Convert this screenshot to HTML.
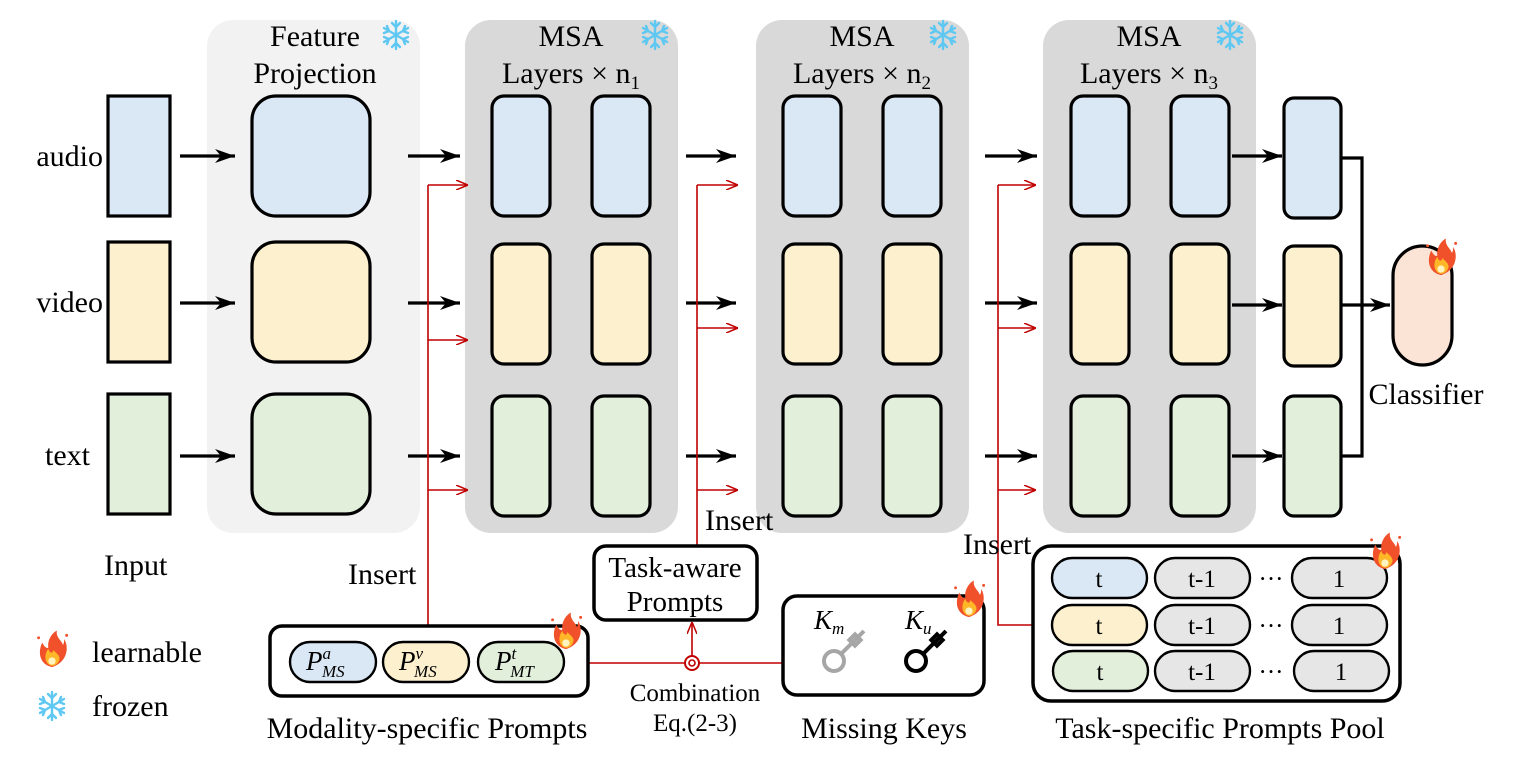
<!DOCTYPE html>
<html><head><meta charset="utf-8"><style>
body{margin:0;background:#fff}
svg{display:block}
text{font-family:"Liberation Serif",serif;fill:#000}
</style></head><body>
<svg width="1515" height="767" viewBox="0 0 1515 767" xmlns="http://www.w3.org/2000/svg">
<defs>
<marker id="abk" viewBox="0 0 20 14" markerWidth="20" markerHeight="14" refX="20" refY="7" orient="auto" markerUnits="userSpaceOnUse"><path d="M0,0 L20,7 L0,14 L6,7 Z" fill="#000"/></marker>
<marker id="ar" viewBox="0 0 12 10" markerWidth="12" markerHeight="10" refX="12" refY="5" orient="auto" markerUnits="userSpaceOnUse"><path d="M0,0 L12,5 L0,10" fill="none" stroke="#c00000" stroke-width="1.5"/></marker>
<g id="fl">
<path d="M0,14 C-10,12 -12,2 -8,-6 C-6,-2 -4,-1 -3,-2 C-4,-8 0,-14 4,-16 C3,-10 8,-8 9,-4 C10,-6 10,-8 10,-9 C14,-3 13,10 0,14 Z" fill="#f0502a"/>
<path d="M0,13 C-6,12 -7,4 -3,-1 C-2,3 1,3 1,0 C4,3 7,5 6,8 C5,11 3,13 0,13 Z" fill="#ffb627"/>
<circle cx="0" cy="9" r="3" fill="#fff3c0"/>
<circle cx="-11" cy="-10" r="1.2" fill="#f0502a"/><circle cx="12" cy="-12" r="1.2" fill="#f0502a"/>
</g>
<g id="flame"><use href="#fl" transform="scale(1.22)"/></g>
<g id="snow" stroke="#5ec8f2" stroke-width="2.4" stroke-linecap="round" fill="none">
<line x1="0" y1="-14" x2="0" y2="14"/><line x1="-12" y1="-7" x2="12" y2="7"/><line x1="-12" y1="7" x2="12" y2="-7"/>
<path d="M-4,-12 L0,-8 L4,-12 M-4,12 L0,8 L4,12 M-12,-2 L-7,-4 L-9,-9 M12,2 L7,4 L9,9 M-12,2 L-7,4 L-9,9 M12,-2 L7,-4 L9,-9"/>
</g>
</defs>

<rect x="207" y="20" width="213" height="513" rx="26" fill="#f2f2f2"/>
<rect x="465" y="20" width="213" height="513" rx="26" fill="#d9d9d9"/>
<rect x="756" y="20" width="213" height="513" rx="26" fill="#d9d9d9"/>
<rect x="1043" y="20" width="213" height="513" rx="26" fill="#d9d9d9"/>

<g font-size="30" text-anchor="middle">
<text x="315" y="46">Feature</text>
<text x="315" y="83">Projection</text>
<text x="571" y="46">MSA</text>
<text x="571" y="83">Layers × n<tspan font-size="19" dy="6">1</tspan></text>
<text x="862" y="46">MSA</text>
<text x="862" y="83">Layers × n<tspan font-size="19" dy="6">2</tspan></text>
<text x="1149" y="46">MSA</text>
<text x="1149" y="83">Layers × n<tspan font-size="19" dy="6">3</tspan></text>
</g>
<use href="#snow" x="396" y="35"/>
<use href="#snow" x="655" y="35"/>
<use href="#snow" x="943" y="35"/>
<use href="#snow" x="1230" y="35"/>

<g font-size="30" text-anchor="end">
<text x="103" y="166">audio</text>
<text x="103" y="312">video</text>
<text x="90" y="465">text</text>
</g>
<text x="104" y="575" font-size="30">Input</text>

<g stroke="#000" stroke-width="3.2">
<rect x="108" y="96" width="62" height="120" fill="#dae8f5"/>
<rect x="108" y="242" width="62" height="120" fill="#fdf0cf"/>
<rect x="108" y="394" width="62" height="120" fill="#e1efdb"/>
<rect x="252" y="96" width="118" height="120" rx="24" fill="#dae8f5"/>
<rect x="252" y="242" width="118" height="120" rx="24" fill="#fdf0cf"/>
<rect x="252" y="394" width="118" height="120" rx="24" fill="#e1efdb"/>
<g id="msa">
<rect x="492" y="96" width="58" height="120" rx="12" fill="#dae8f5"/>
<rect x="592" y="96" width="58" height="120" rx="12" fill="#dae8f5"/>
<rect x="492" y="244" width="58" height="120" rx="12" fill="#fdf0cf"/>
<rect x="592" y="244" width="58" height="120" rx="12" fill="#fdf0cf"/>
<rect x="492" y="396" width="58" height="120" rx="12" fill="#e1efdb"/>
<rect x="592" y="396" width="58" height="120" rx="12" fill="#e1efdb"/>
</g>
<use href="#msa" x="291"/>
<use href="#msa" x="579"/>
<rect x="1284" y="98" width="57" height="120" rx="10" fill="#dae8f5"/>
<rect x="1284" y="246" width="57" height="120" rx="10" fill="#fdf0cf"/>
<rect x="1284" y="396" width="57" height="120" rx="10" fill="#e1efdb"/>
<rect x="1393" y="246" width="59" height="119" rx="29.5" fill="#fbe3d6"/>
</g>
<use href="#flame" x="1441" y="258"/>
<text x="1426" y="404" font-size="30" text-anchor="middle">Classifier</text>

<g stroke="#000" stroke-width="3.2" fill="none">
<line x1="180" y1="156" x2="235" y2="156" marker-end="url(#abk)"/>
<line x1="180" y1="303" x2="235" y2="303" marker-end="url(#abk)"/>
<line x1="180" y1="456" x2="235" y2="456" marker-end="url(#abk)"/>
<line x1="408" y1="156" x2="460" y2="156" marker-end="url(#abk)"/>
<line x1="408" y1="303" x2="460" y2="303" marker-end="url(#abk)"/>
<line x1="408" y1="456" x2="460" y2="456" marker-end="url(#abk)"/>
<line x1="686" y1="156" x2="736" y2="156" marker-end="url(#abk)"/>
<line x1="686" y1="303" x2="736" y2="303" marker-end="url(#abk)"/>
<line x1="686" y1="456" x2="736" y2="456" marker-end="url(#abk)"/>
<line x1="985" y1="156" x2="1037" y2="156" marker-end="url(#abk)"/>
<line x1="985" y1="303" x2="1037" y2="303" marker-end="url(#abk)"/>
<line x1="985" y1="456" x2="1037" y2="456" marker-end="url(#abk)"/>
<line x1="1232" y1="156" x2="1282" y2="156" marker-end="url(#abk)"/>
<line x1="1232" y1="305" x2="1282" y2="305" marker-end="url(#abk)"/>
<line x1="1232" y1="456" x2="1282" y2="456" marker-end="url(#abk)"/>
<polyline points="1341,158 1362,158 1362,456 1341,456"/>
<line x1="1341" y1="305" x2="1390" y2="305" marker-end="url(#abk)"/>
</g>

<g stroke="#c00000" stroke-width="1.6" fill="none">
<line x1="428" y1="626" x2="428" y2="185"/>
<line x1="428" y1="185" x2="468" y2="185" marker-end="url(#ar)"/>
<line x1="428" y1="340" x2="468" y2="340" marker-end="url(#ar)"/>
<line x1="428" y1="490" x2="468" y2="490" marker-end="url(#ar)"/>
<line x1="697" y1="546" x2="697" y2="185"/>
<line x1="697" y1="185" x2="738" y2="185" marker-end="url(#ar)"/>
<line x1="697" y1="328" x2="738" y2="328" marker-end="url(#ar)"/>
<line x1="697" y1="490" x2="738" y2="490" marker-end="url(#ar)"/>
<polyline points="1033,625 998,625 998,185"/>
<line x1="998" y1="185" x2="1036" y2="185" marker-end="url(#ar)"/>
<line x1="998" y1="328" x2="1036" y2="328" marker-end="url(#ar)"/>
<line x1="998" y1="490" x2="1036" y2="490" marker-end="url(#ar)"/>
<line x1="588" y1="663" x2="685" y2="663"/>
<line x1="699" y1="663" x2="783" y2="663"/>
<line x1="692" y1="656" x2="692" y2="622" marker-end="url(#ar)"/>
<circle cx="692" cy="663" r="7" stroke-width="2"/>
<circle cx="692" cy="663" r="3" stroke-width="1.6"/>
</g>
<text x="348" y="584" font-size="30">Insert</text>
<text x="705" y="530" font-size="30">Insert</text>
<text x="963" y="554" font-size="30">Insert</text>

<g stroke="#000" stroke-width="3.5">
<rect x="270" y="626" width="318" height="70" rx="12" fill="#fff"/>
<rect x="594" y="546" width="163" height="74" rx="12" fill="#fff"/>
<rect x="783" y="596" width="201" height="99" rx="14" fill="#fff"/>
<rect x="1033" y="546" width="367" height="155" rx="18" fill="#fff"/>
</g>
<g stroke="#000" stroke-width="2.4">
<rect x="290" y="642" width="86" height="40" rx="20" fill="#dae8f5"/>
<rect x="383" y="642" width="86" height="40" rx="20" fill="#fdf0cf"/>
<rect x="478" y="642" width="86" height="40" rx="20" fill="#e1efdb"/>
<rect x="1052" y="558" width="95" height="40" rx="20" fill="#dae8f5"/>
<rect x="1155" y="558" width="95" height="40" rx="20" fill="#e6e6e6"/>
<rect x="1292" y="558" width="95" height="40" rx="20" fill="#e6e6e6"/>
<rect x="1052" y="605" width="95" height="40" rx="20" fill="#fdf0cf"/>
<rect x="1155" y="605" width="95" height="40" rx="20" fill="#e6e6e6"/>
<rect x="1292" y="605" width="95" height="40" rx="20" fill="#e6e6e6"/>
<rect x="1053" y="651" width="95" height="40" rx="20" fill="#e1efdb"/>
<rect x="1155" y="651" width="95" height="40" rx="20" fill="#e6e6e6"/>
<rect x="1294" y="651" width="95" height="40" rx="20" fill="#e6e6e6"/>
</g>
<g font-size="25" text-anchor="middle">
<text x="1099" y="587">t</text><text x="1202" y="587">t-1</text><text x="1339" y="587">1</text>
<text x="1099" y="634">t</text><text x="1202" y="634">t-1</text><text x="1339" y="634">1</text>
<text x="1100" y="680">t</text><text x="1202" y="680">t-1</text><text x="1341" y="680">1</text>
<text x="1271" y="587">···</text><text x="1271" y="634">···</text><text x="1271" y="680">···</text>
</g>
<g font-size="27" font-style="italic">
<text x="306" y="670">P<tspan font-size="17" dy="-11">a</tspan><tspan font-size="17" dx="-9" dy="18">MS</tspan></text>
<text x="399" y="670">P<tspan font-size="17" dy="-11">v</tspan><tspan font-size="17" dx="-9" dy="18">MS</tspan></text>
<text x="495" y="670">P<tspan font-size="17" dy="-11">t</tspan><tspan font-size="17" dx="-6" dy="18">MT</tspan></text>
<text x="814" y="629">K<tspan font-size="17" dy="5">m</tspan></text>
<text x="905" y="629">K<tspan font-size="17" dy="5">u</tspan></text>
</g>
<g fill="none" stroke="#a6a6a6" stroke-width="4">
<circle cx="834" cy="661" r="10"/>
<line x1="841" y1="654" x2="864" y2="631"/>
<rect x="851" y="636" width="8" height="8" transform="rotate(45 855 640)"/>
</g>
<g fill="none" stroke="#000" stroke-width="4">
<circle cx="916" cy="661" r="10"/>
<line x1="923" y1="654" x2="946" y2="631"/>
<rect x="933" y="636" width="8" height="8" transform="rotate(45 937 640)"/>
</g>
<text x="675" y="577" font-size="29" text-anchor="middle">Task-aware</text>
<text x="675" y="611" font-size="29" text-anchor="middle">Prompts</text>
<text x="427" y="738" font-size="30" text-anchor="middle">Modality-specific Prompts</text>
<text x="695" y="701" font-size="25" text-anchor="middle">Combination</text>
<text x="695" y="731" font-size="25" text-anchor="middle">Eq.(2-3)</text>
<text x="884" y="738" font-size="30" text-anchor="middle">Missing Keys</text>
<text x="1220" y="738" font-size="30" text-anchor="middle">Task-specific Prompts Pool</text>

<use href="#flame" x="566" y="632"/>
<use href="#flame" x="969" y="600"/>
<use href="#flame" x="1385" y="552"/>
<use href="#flame" x="52" y="650"/>
<use href="#snow" x="52" y="706"/>
<text x="92" y="662" font-size="30">learnable</text>
<text x="92" y="716" font-size="30">frozen</text>
</svg>
</body></html>
